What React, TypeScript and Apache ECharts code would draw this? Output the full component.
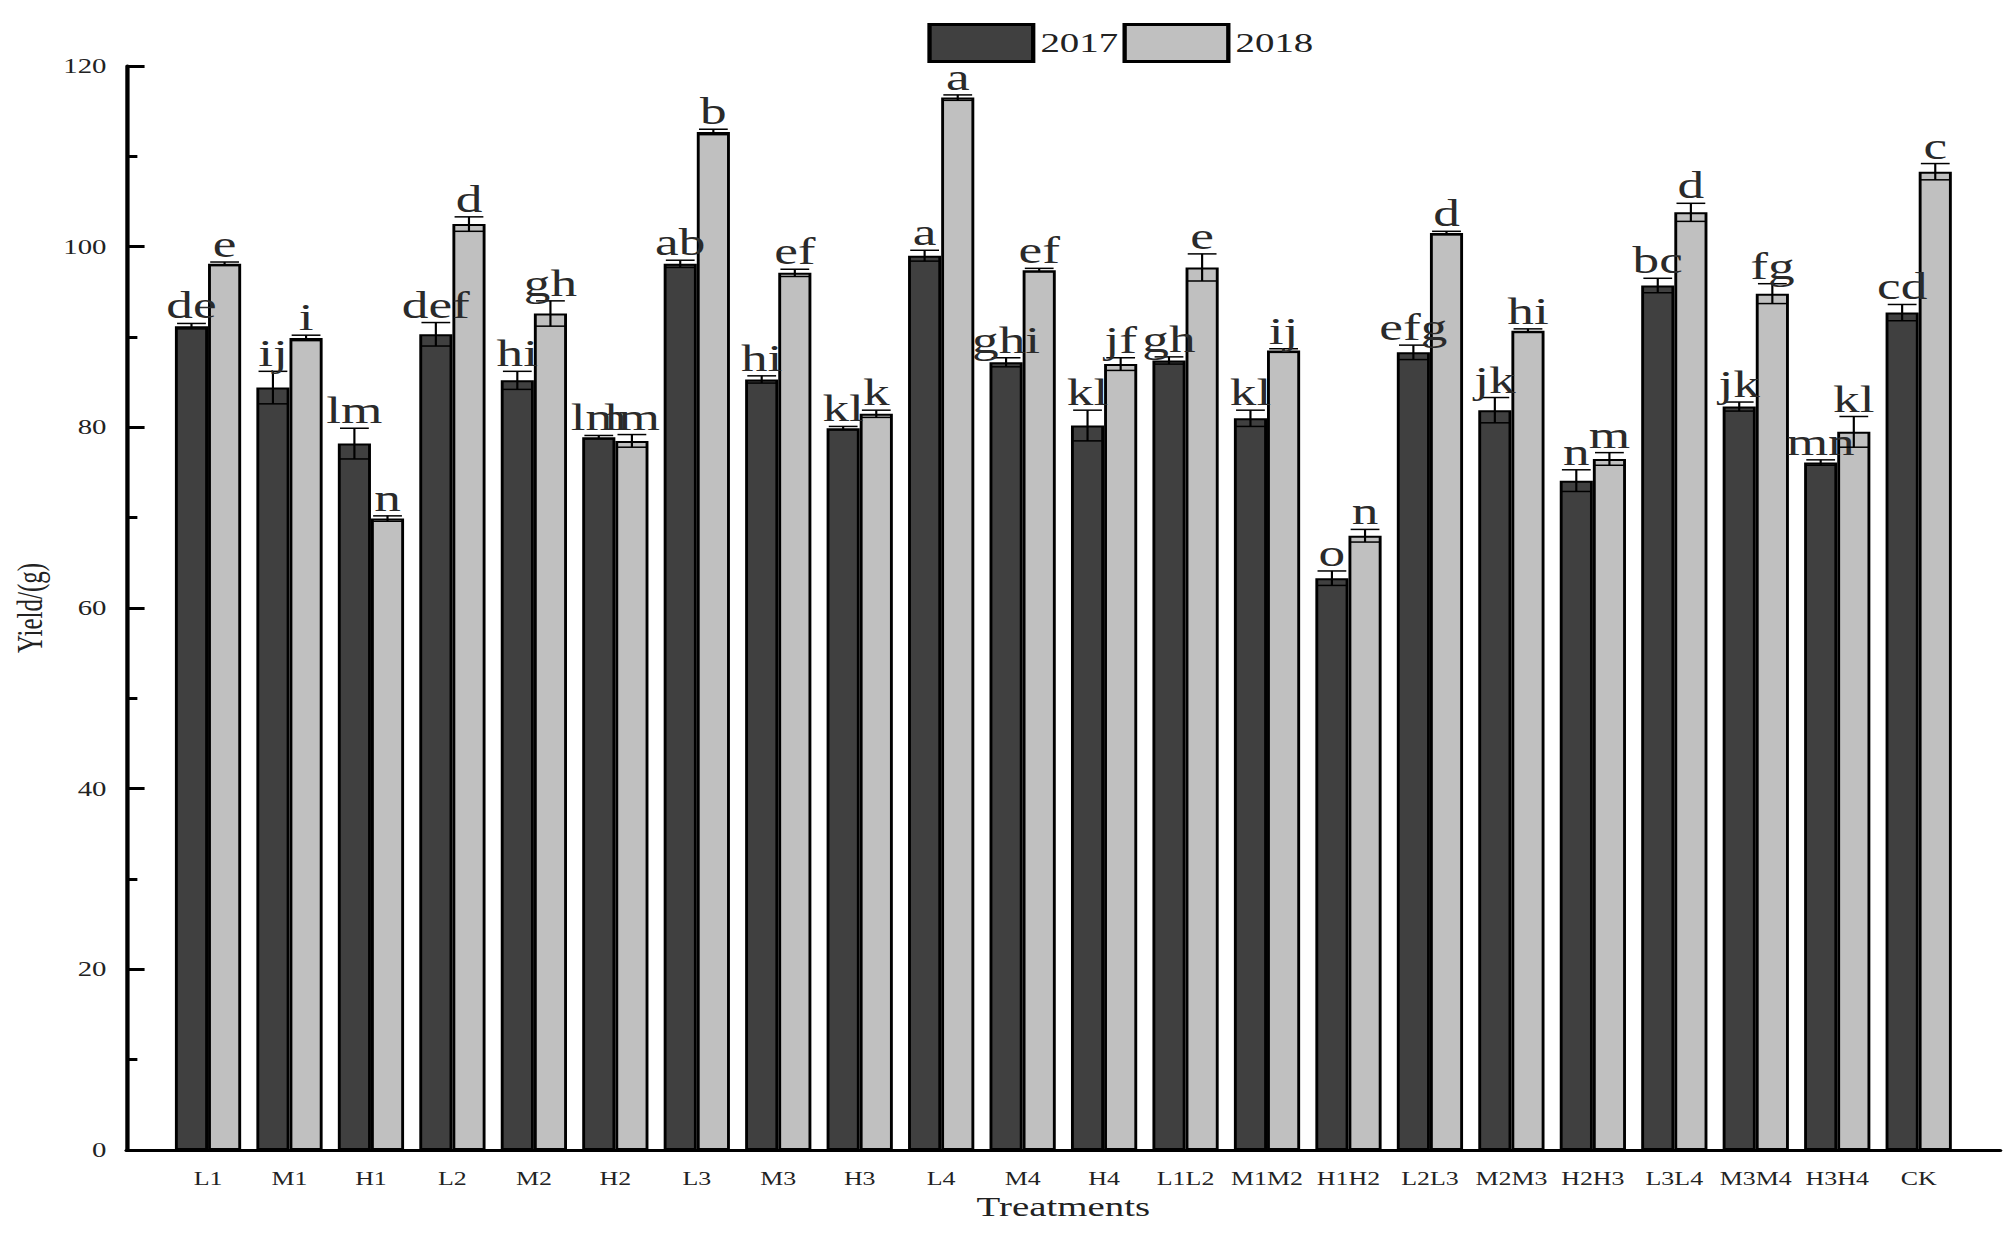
import React, { useEffect, useRef } from "react";
import * as echarts from "echarts";

const categories = ["L1", "M1", "H1", "L2", "M2", "H2", "L3", "M3", "H3", "L4", "M4", "H4", "L1L2", "M1M2", "H1H2", "L2L3", "M2M3", "H2H3", "L3L4", "M3M4", "H3H4", "CK"];
const yield2017 = [91.2, 84.4, 78.2, 90.3, 85.2, 78.9, 98.1, 85.3, 79.9, 99.0, 87.2, 80.2, 87.4, 81.0, 63.3, 88.3, 81.9, 74.1, 95.7, 82.3, 76.1, 92.7];
const err2017 = [0.3, 1.8, 1.7, 1.3, 1.0, 0.2, 0.4, 0.4, 0.2, 0.6, 0.5, 1.7, 0.4, 0.9, 0.8, 0.8, 1.4, 1.2, 0.8, 0.5, 0.3, 0.9];
const yield2018 = [98.1, 89.9, 69.9, 102.5, 92.6, 78.5, 112.7, 97.1, 81.5, 116.5, 97.4, 87.0, 97.7, 88.5, 68.0, 101.5, 90.7, 76.5, 103.8, 94.8, 79.5, 108.3];
const err2018 = [0.2, 0.3, 0.3, 0.8, 1.4, 0.7, 0.3, 0.4, 0.4, 0.3, 0.2, 0.7, 1.5, 0.2, 0.7, 0.2, 0.2, 0.7, 1.0, 1.1, 1.7, 0.9];
const letters2017 = ["de", "ij", "lm", "def", "hi", "lm", "ab", "hi", "kl", "a", "ghi", "kl", "gh", "kl", "o", "efg", "jk", "n", "bc", "jk", "mn", "cd"];
const letters2018 = ["e", "i", "n", "d", "gh", "lm", "b", "ef", "k", "a", "ef", "jf", "e", "ij", "n", "d", "hi", "m", "d", "fg", "kl", "c"];
const yTicks = [0, 20, 40, 60, 80, 100, 120];

const STRETCH = 1.44;
const W = 1400;
const H = 1233;
const BAR_W = 23;
const CAP_HALF = 10;
const SERIF = "'Liberation Serif', 'Times New Roman', serif";

function errSeries(name: string, vals: number[], errs: number[], letters: string[], sign: number) {
  return {
    type: "custom",
    name,
    silent: true,
    z: 5,
    data: vals.map((v, i) => [i, v, errs[i]]),
    renderItem: (params: any, api: any) => {
      const i = api.value(0);
      const v = api.value(1);
      const e = api.value(2);
      const hi = api.coord([i, v + e]);
      const lo = api.coord([i, v - e]);
      const cx = hi[0] + (sign * BAR_W) / 2;
      const ls = { stroke: "#000", lineWidth: 1.5 };
      return {
        type: "group",
        children: [
          { type: "line", shape: { x1: cx, y1: hi[1], x2: cx, y2: lo[1] }, style: ls },
          { type: "line", shape: { x1: cx - CAP_HALF, y1: hi[1], x2: cx + CAP_HALF, y2: hi[1] }, style: ls },
          { type: "line", shape: { x1: cx - CAP_HALF, y1: lo[1], x2: cx + CAP_HALF, y2: lo[1] }, style: ls },
          {
            type: "text",
            x: cx,
            y: hi[1] + 1,
            style: {
              text: letters[params.dataIndex],
              fontSize: 37,
              fontFamily: SERIF,
              fill: "#2a2a2a",
              align: "center",
              verticalAlign: "bottom",
            },
          },
        ],
      };
    },
  };
}

export default function App() {
  const ref = useRef<HTMLDivElement>(null);
  useEffect(() => {
    if (!ref.current) return;
    const chart = echarts.init(ref.current, undefined, { renderer: "svg" });
    chart.setOption({
      animation: false,
      backgroundColor: "#fff",
      textStyle: { fontFamily: SERIF },
      legend: {
        data: ["2017", "2018"],
        left: 639,
        top: 18,
        icon: "rect",
        itemWidth: 72,
        itemHeight: 37,
        itemGap: 3,
        textStyle: { fontSize: 27, fontFamily: SERIF, color: "#222" },
        itemStyle: { borderColor: "#000", borderWidth: 3 },
      },
      grid: { left: 82, right: 11, top: 66, bottom: 83, containLabel: false },
      xAxis: {
        type: "value",
        min: -1,
        max: 22,
        interval: 1,
        name: "Treatments",
        nameLocation: "middle",
        nameGap: 43,
        nameTextStyle: { fontSize: 27, fontFamily: SERIF, color: "#222" },
        axisLine: { show: true, onZero: false, lineStyle: { color: "#000", width: 3 } },
        axisTick: { show: false },
        splitLine: { show: false },
        axisLabel: {
          fontSize: 18,
          fontFamily: SERIF,
          color: "#222",
          margin: 20,
          showMinLabel: true,
          showMaxLabel: true,
          formatter: (v: number) => (Number.isInteger(v) && categories[v] !== undefined ? categories[v] : ""),
        },
      },
      yAxis: {
        type: "value",
        min: yTicks[0],
        max: yTicks[yTicks.length - 1],
        interval: yTicks[1] - yTicks[0],
        name: "Yield/(g)",
        nameLocation: "middle",
        nameGap: 50,
        nameTextStyle: { fontSize: 25, fontFamily: SERIF, color: "#222" },
        axisLine: { show: true, onZero: false, lineStyle: { color: "#000", width: 3 } },
        axisTick: { show: true, inside: true, length: 12.5, lineStyle: { color: "#000", width: 3 } },
        minorTick: { show: true, splitNumber: 2, length: 7.5, lineStyle: { color: "#000", width: 3 } },
        splitLine: { show: false },
        axisLabel: { fontSize: 20, fontFamily: SERIF, color: "#222", margin: 14 },
      },
      series: [
        {
          type: "bar",
          name: "2017",
          barWidth: BAR_W,
          barGap: "0%",
          data: yield2017.map((v, i) => [i, v]),
          itemStyle: { color: "#404040", borderColor: "#000", borderWidth: 2 },
        },
        {
          type: "bar",
          name: "2018",
          barWidth: BAR_W,
          barGap: "0%",
          data: yield2018.map((v, i) => [i, v]),
          itemStyle: { color: "#c0c0c0", borderColor: "#000", borderWidth: 2 },
        },
        errSeries("2017 error", yield2017, err2017, letters2017, -1),
        errSeries("2018 error", yield2018, err2018, letters2018, 1),
      ],
    });
    return () => chart.dispose();
  }, []);
  return (
    <div
      ref={ref}
      style={{
        position: "absolute",
        left: 0,
        top: 0,
        width: W,
        height: H,
        transform: `scaleX(${STRETCH})`,
        transformOrigin: "0 0",
        background: "#fff",
      }}
    />
  );
}
